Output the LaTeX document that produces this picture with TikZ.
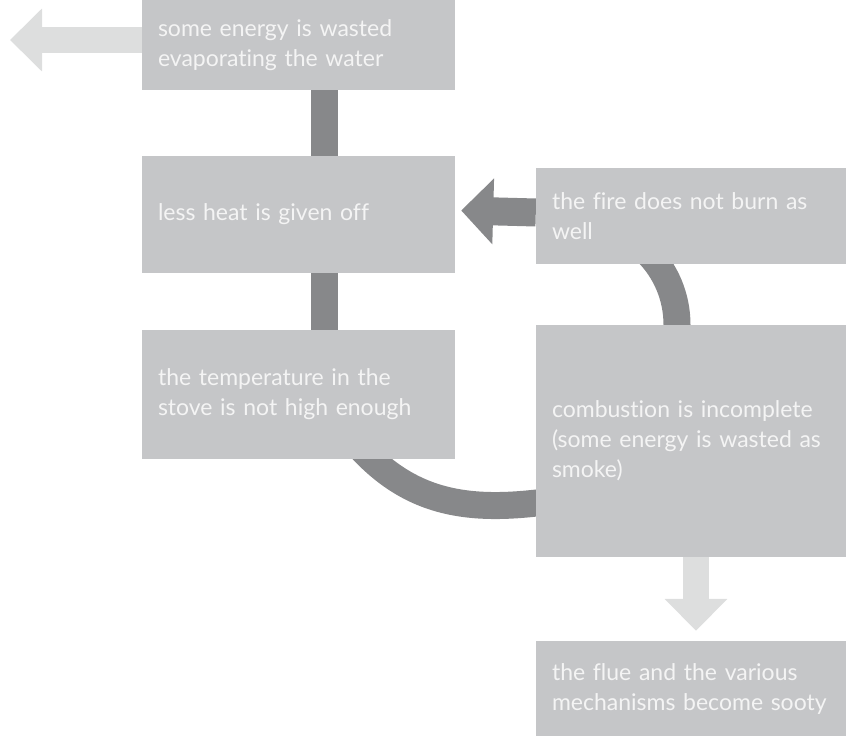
\documentclass[tikz,border=0pt]{standalone}
\usepackage{fontspec}
\setmainfont{Lato}[Ligatures=NoCommon]
\usetikzlibrary{arrows.meta,calc,backgrounds}
\definecolor{boxgray}{HTML}{C5C6C8}
\definecolor{darkgray}{HTML}{87888A}
\definecolor{lightgray}{HTML}{DDDEDE}
\definecolor{textwhite}{HTML}{F4F4F4}
\begin{document}
\begin{tikzpicture}[x=1pt,y=-1pt,
  box/.style={rectangle, fill=boxgray, inner sep=0pt, inner xsep=16pt,
    text=textwhite, align=left, font=\fontsize{23}{30}\selectfont},
  leftbox/.style={box, text width=281pt, minimum width=313pt},
  rightbox/.style={box, text width=278pt, minimum width=310pt},
  darkline/.style={draw=darkgray, line width=27pt},
  lightarrow/.style={draw=lightgray, line width=26pt, -{Triangle[width=61pt,length=32pt]}, fill=lightgray},
  darkarrow/.style={draw=darkgray, line width=28pt, -{Triangle[width=64pt,length=32pt]}, fill=darkgray}
]
\useasboundingbox (0,0) rectangle (846,736);

\node[leftbox, minimum height=90pt] (box1) at (298.5,45) {some energy is wasted\\evaporating the water};
\node[leftbox, minimum height=117pt] (box2) at (298.5,214.5) {less heat is given off};
\node[leftbox, minimum height=129pt] (box3) at (298.5,394.5) {the temperature in the\\stove is not high enough};
\node[rightbox, minimum height=96pt] (box4) at (691,216) {the fire does not burn as\\well};
\node[rightbox, minimum height=232pt] (box5) at (691,441) {combustion is incomplete\\(some energy is wasted as\\smoke)};
\node[rightbox, minimum height=95pt] (box6) at (691,688.5) {the flue and the various\\mechanisms become sooty};

\begin{pgfonlayer}{background}
\draw[darkline] ($(box1.south)+(25.5,0)$) -- ($(box2.north)+(25.5,0)$);
\draw[darkline] ($(box2.south)+(25.5,0)$) -- ($(box3.north)+(25.5,0)$);
\draw[darkline] ($(box3.south)+(52,-23)$) .. controls ($(box3.south)+(106.5,44)$) and ($(box3.south)+(166.5,53)$) .. ($(box5.west)+(9,61)$);
\draw[darkline] ($(box5.north)+(-14,15)$) -- ($(box5.north)+(-14,0)$) .. controls ($(box5.north)+(-14,-57)$) and ($(box5.north)+(-60,-103)$) .. ($(box5.north)+(-117,-103)$);
\draw[darkarrow] ($(box4.west)+(0,-3.5)$) -- ($(box2.east)+(6,-4)$);
\coordinate (leftend) at (10,40);
\draw[lightarrow] ($(box1.west)+(0,-5)$) -- (leftend);
\draw[lightarrow] ($(box5.south)+(5,0)$) -- ($(box6.north)+(5,-10)$);
\end{pgfonlayer}
\end{tikzpicture}
\end{document}
